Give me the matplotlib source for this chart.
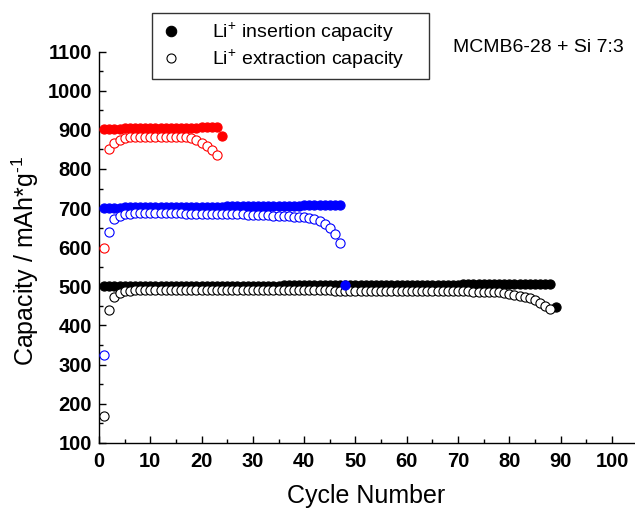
import matplotlib
matplotlib.use("Agg")
import matplotlib.pyplot as plt
from matplotlib.ticker import MultipleLocator
from matplotlib.lines import Line2D

# ---- data ----
red_ins = [903, 903, 903, 903, 904, 904, 904, 904, 904, 904, 905, 905, 905, 905,
           905, 906, 906, 906, 906, 907, 907, 908, 908, 884]
red_ext = [597, 850, 867, 875, 879, 881, 882, 883, 883, 883, 883, 883, 883, 883,
           883, 882, 881, 879, 874, 866, 858, 848, 836]

blue_ins = [701, 701, 701, 701, 702, 702, 702, 702, 702, 702, 703, 703, 703, 703,
            703, 703, 703, 704, 704, 704, 704, 704, 704, 704, 705, 705, 705, 705,
            705, 705, 705, 705, 706, 706, 706, 706, 706, 706, 706, 707, 707, 707,
            707, 707, 708, 708, 708, 503]
blue_ext = [324, 638, 671, 680, 684, 686, 687, 687, 687, 687, 687, 687, 687, 687,
            687, 687, 686, 686, 686, 686, 686, 685, 685, 685, 685, 684, 684, 684,
            683, 683, 683, 682, 682, 681, 681, 680, 679, 678, 677, 676, 674, 671,
            667, 660, 650, 635, 612]

black_ins = [501, 501, 501, 501, 501, 501, 501, 501, 501, 501, 501, 501, 501, 501,
             501, 502, 502, 502, 502, 502, 502, 502, 502, 502, 502, 502, 502, 502,
             502, 502, 502, 502, 502, 502, 502, 503, 503, 503, 503, 503, 503, 503,
             503, 503, 503, 503, 503, 503, 503, 503, 503, 503, 503, 503, 503, 504,
             504, 504, 504, 504, 504, 504, 504, 504, 504, 504, 504, 504, 504, 504,
             505, 505, 505, 505, 505, 505, 505, 505, 505, 505, 506, 506, 506, 506,
             506, 507, 507, 507, 448]
black_ext = [168, 439, 472, 482, 487, 489, 491, 491, 491, 491, 491, 491, 491, 491,
             491, 491, 491, 491, 491, 491, 491, 491, 491, 491, 491, 490, 490, 490,
             490, 490, 490, 490, 490, 490, 490, 490, 490, 490, 490, 490, 490, 490,
             490, 490, 490, 489, 489, 489, 489, 489, 489, 489, 489, 489, 489, 489,
             489, 489, 489, 489, 487, 487, 487, 487, 487, 487, 487, 487, 487, 487,
             487, 487, 485, 485, 485, 485, 485, 485, 483, 481, 479, 476, 473, 469,
             464, 457, 449, 441]

x_ticks = [0, 10, 20, 30, 40, 50, 60, 70, 80, 90, 100]
y_ticks = [100, 200, 300, 400, 500, 600, 700, 800, 900, 1000, 1100]

plt.rcParams['font.family'] = ['Liberation Sans', 'DejaVu Sans']
plt.rcParams['mathtext.fontset'] = 'custom'
plt.rcParams['mathtext.rm'] = 'Liberation Sans'
plt.rcParams['mathtext.it'] = 'Liberation Sans'

fig = plt.figure(figsize=(6.35, 5.09), dpi=100)
ax = fig.add_axes([99/635, 1 - 442.7/509, (634 - 99)/635, (442.7 - 51.7)/509])

ms = 6.6
mew = 0.8

def cyc(vals):
    return list(range(1, len(vals) + 1))

# black
ax.plot(cyc(black_ins), black_ins, 'o', color='black', ms=ms, mew=mew, zorder=3)
ax.plot(cyc(black_ext), black_ext, 'o', mfc='white', mec='black', ms=ms, mew=mew, zorder=3)
# blue
ax.plot(cyc(blue_ins), blue_ins, 'o', color='#0000ff', ms=ms, mew=mew, zorder=4)
ax.plot(cyc(blue_ext), blue_ext, 'o', mfc='white', mec='#0000ff', ms=ms, mew=mew, zorder=4)
# red
ax.plot(cyc(red_ins), red_ins, 'o', color='#ff0000', ms=ms, mew=mew, zorder=5)
ax.plot(cyc(red_ext), red_ext, 'o', mfc='white', mec='#ff0000', ms=ms, mew=mew, zorder=5)

ax.set_xlim(0, 104.3)
ax.set_ylim(100, 1100)
ax.set_xticks(x_ticks)
ax.set_yticks(y_ticks)
ax.xaxis.set_minor_locator(MultipleLocator(5))
ax.yaxis.set_minor_locator(MultipleLocator(50))
ax.spines['top'].set_visible(False)
ax.spines['right'].set_visible(False)
for s in ['left', 'bottom']:
    ax.spines[s].set_linewidth(1.0)
ax.tick_params(which='major', direction='in', length=5, width=1.0, labelsize=14.5)
ax.tick_params(axis='x', which='major', pad=7)
ax.tick_params(axis='y', which='major', pad=5)
ax.tick_params(which='minor', direction='in', length=3, width=1.0)
for lab in ax.get_xticklabels() + ax.get_yticklabels():
    lab.set_fontweight('bold')

ax.set_xlabel('Cycle Number', fontsize=18, labelpad=9)
ax.set_ylabel(r'Capacity / mAh*g$^{\text{-}1}$', fontsize=18)
ax.yaxis.set_label_coords(-0.108, 0.465)

handles = [
    Line2D([], [], marker='o', ls='none', color='black', ms=7.5, mew=mew),
    Line2D([], [], marker='o', ls='none', mfc='white', mec='black', ms=6.5, mew=mew),
]
leg = fig.legend(handles, ['Li$^{+}$ insertion capacity    ', 'Li$^{+}$ extraction capacity    '],
                 loc='upper left', bbox_to_anchor=(152/635, 1 - 13/509),
                 fontsize=14, frameon=True, fancybox=False, edgecolor='black',
                 borderpad=0.4, handlelength=1.2, handletextpad=1.5, labelspacing=0.2,
                 borderaxespad=0)
leg.get_frame().set_linewidth(1.0)

fig.text(453/635, 1 - 47/509, 'MCMB6-28 + Si 7:3', fontsize=14, va='center', ha='left')

fig.savefig('out.png', dpi=100)
